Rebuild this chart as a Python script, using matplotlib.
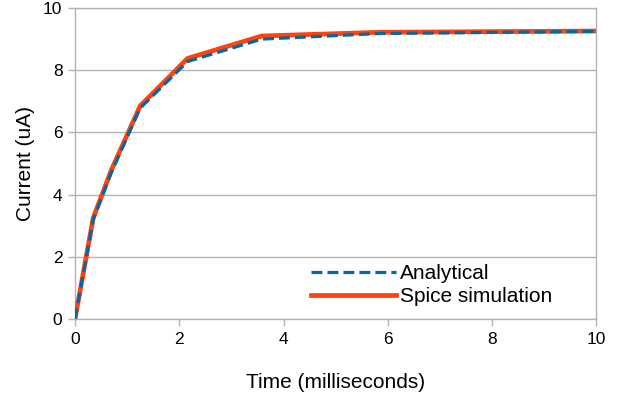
import numpy as np
import matplotlib.pyplot as plt

plt.rcParams['font.family'] = ['Liberation Sans', 'DejaVu Sans']

# time in ms, current in uA
t_spice = [0, 0.35, 0.70, 1.25, 2.16, 3.58, 5.85, 10]
i_spice = [0, 3.25, 4.80, 6.85, 8.38, 9.10, 9.22, 9.26]
t_analytic = [0, 0.35, 0.70, 1.25, 2.16, 3.58, 5.85, 10]
i_analytic = [0, 3.20, 4.72, 6.78, 8.28, 9.00, 9.18, 9.25]

fig = plt.figure(figsize=(6.28, 4.03), dpi=100)
ax = fig.add_axes([0.1194, 0.2084, 0.8303, 0.7717])

grey = '#b3b3b3'
sp, = ax.plot(t_spice, i_spice, color='#ff420e', lw=3.4, zorder=3,
              label='Spice simulation')
an, = ax.plot(t_analytic, i_analytic, color='#0369a3', lw=2.3, zorder=4,
              dashes=(3.4, 1.6), label='Analytical')

ax.set_xlim(0, 10)
ax.set_ylim(0, 10)
ax.set_xticks(np.arange(0, 11, 2))
ax.set_yticks(np.arange(0, 11, 2))
ax.yaxis.grid(True, color=grey, lw=1.0)
ax.set_axisbelow(True)
for s in ax.spines.values():
    s.set_color(grey)
    s.set_linewidth(1.0)
ax.tick_params(colors=grey, labelcolor='black', labelsize=12.5,
               length=5, width=1.0, pad=4)

ax.set_xlabel('Time (milliseconds)', fontsize=15, labelpad=19)
ax.set_ylabel('Current (uA)', fontsize=15, labelpad=6)

ax.legend(handles=[an, sp], loc='center left',
          bbox_to_anchor=(311 / 628, 1 - 285 / 403),
          bbox_transform=fig.transFigure, borderpad=0, borderaxespad=0,
          frameon=False, fontsize=15, handlelength=4.1, handletextpad=0.15,
          labelspacing=0.2)

fig.savefig('out.png', dpi=100)
